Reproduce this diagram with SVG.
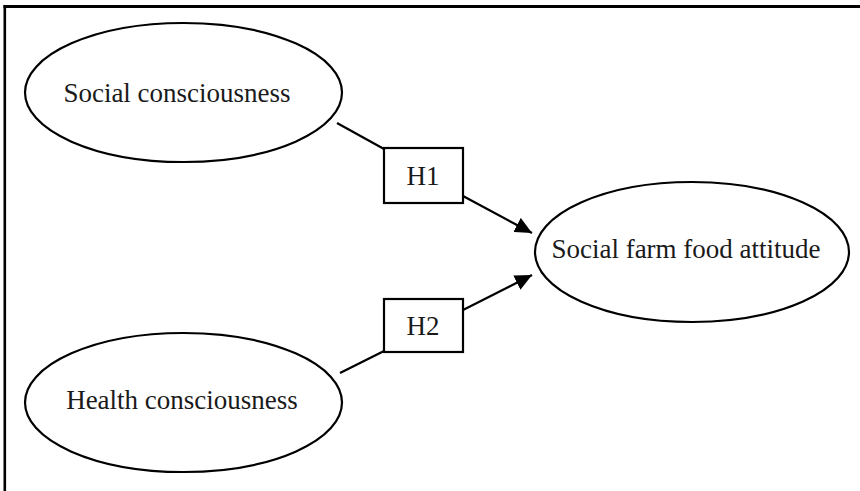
<svg xmlns="http://www.w3.org/2000/svg" width="860" height="491" viewBox="0 0 860 491">
<style>
.node{fill:#fff;stroke:#000;stroke-width:2.2}
.lbl{font-family:"Liberation Serif","Times New Roman",serif;font-size:27px;fill:#1a1a1a;text-anchor:middle}
.hl{font-family:"Liberation Serif","Times New Roman",serif;font-size:27px;fill:#1a1a1a;text-anchor:middle}
.edge{stroke:#000;stroke-width:2.2;fill:none}
.frame{stroke:#000;fill:none}
</style>
<defs>
<marker id="arr" markerUnits="userSpaceOnUse" markerWidth="18" markerHeight="16" refX="17" refY="8" orient="auto">
<path d="M0,0 L17,8 L0,16 Z" fill="#000"/>
</marker>
</defs>
<rect x="0" y="0" width="860" height="491" fill="#fff"/>
<g id="frame">
<line class="frame" x1="3.5" y1="6.5" x2="860" y2="6.5" stroke-width="3"/>
<line class="frame" x1="4.8" y1="5" x2="4.8" y2="491" stroke-width="2.6"/>
</g>
<g id="connectors">
<line class="edge" x1="337" y1="123" x2="384" y2="149"/>
<line class="edge" x1="463" y1="196" x2="532" y2="233" marker-end="url(#arr)"/>
<line class="edge" x1="340" y1="373" x2="384" y2="351"/>
<line class="edge" x1="463" y1="310" x2="532" y2="275" marker-end="url(#arr)"/>
</g>
<g id="social">
<ellipse class="node" cx="183.5" cy="92.5" rx="158.5" ry="69.5"/>
<text class="lbl" x="177" y="102">Social consciousness</text>
</g>
<g id="health">
<ellipse class="node" cx="183.5" cy="402.5" rx="158.5" ry="69.5"/>
<text class="lbl" x="182" y="409">Health consciousness</text>
</g>
<g id="attitude">
<ellipse class="node" cx="692" cy="252" rx="157" ry="70"/>
<text class="lbl" x="686" y="258">Social farm food attitude</text>
</g>
<g id="h1">
<rect class="node" x="384" y="148" width="79" height="55"/>
<text class="hl" x="423" y="185">H1</text>
</g>
<g id="h2">
<rect class="node" x="384" y="299" width="79" height="53"/>
<text class="hl" x="423" y="335">H2</text>
</g>
</svg>
